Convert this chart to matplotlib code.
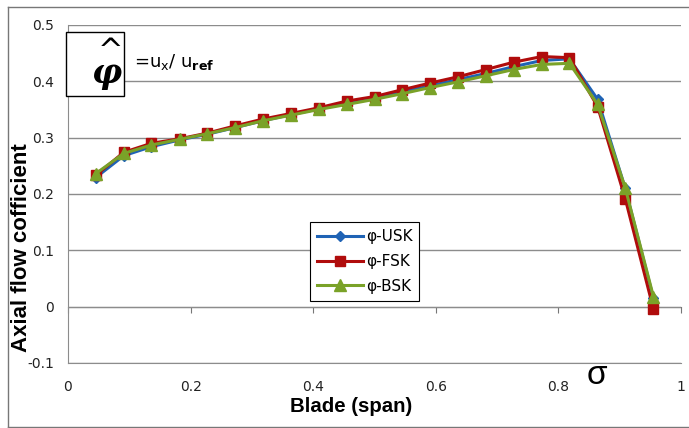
import matplotlib
matplotlib.use("Agg")
import matplotlib.pyplot as plt
from matplotlib.lines import Line2D
from matplotlib.patches import Rectangle
from matplotlib.ticker import FuncFormatter

# blade span positions
span = [0.045, 0.091, 0.136, 0.182, 0.227, 0.273, 0.318, 0.364, 0.409, 0.455, 0.5,
        0.545, 0.591, 0.636, 0.682, 0.727, 0.773, 0.818, 0.864, 0.909, 0.955]

usk = [0.229, 0.268, 0.284, 0.296, 0.306, 0.318, 0.330, 0.341, 0.351, 0.361, 0.370,
       0.381, 0.392, 0.403, 0.414, 0.426, 0.437, 0.440, 0.368, 0.210, 0.015]
fsk = [0.233, 0.274, 0.290, 0.298, 0.308, 0.321, 0.333, 0.343, 0.353, 0.365, 0.373,
       0.385, 0.397, 0.408, 0.421, 0.434, 0.444, 0.442, 0.355, 0.192, -0.004]
bsk = [0.236, 0.272, 0.287, 0.297, 0.307, 0.318, 0.330, 0.340, 0.350, 0.359, 0.368,
       0.378, 0.389, 0.399, 0.410, 0.421, 0.430, 0.432, 0.359, 0.211, 0.018]

labels = ['φ-USK', 'φ-FSK', 'φ-BSK']
xticks = [0, 0.2, 0.4, 0.6, 0.8, 1]
yticks = [-0.1, 0, 0.1, 0.2, 0.3, 0.4, 0.5]

W, H = 689, 428
fig = plt.figure(figsize=(W / 100, H / 100), dpi=100)
ax = fig.add_axes([68 / W, 1 - 363 / H, 613 / W, 338 / H])


def px(x, y):
    return x / W, 1 - y / H


ax.plot(span, usk, color='#1f63b5', lw=2.2, marker='D', ms=5, label=labels[0], zorder=3)
ax.plot(span, fsk, color='#b00c0c', lw=2.2, marker='s', ms=7, label=labels[1], zorder=4)
ax.plot(span, bsk, color='#7aa228', lw=2.2, marker='^', ms=8, label=labels[2], zorder=5)

ax.set_xlim(0, 1)
ax.set_ylim(-0.1, 0.5)
ax.set_xticks(xticks)
ax.set_yticks(yticks)
fmt = FuncFormatter(lambda v, p: '%g' % round(v, 2))
ax.xaxis.set_major_formatter(fmt)
ax.yaxis.set_major_formatter(fmt)
ax.tick_params(length=0, labelsize=10, labelcolor='#222222', pad=12)
ax.tick_params(axis='y', pad=10)
ax.grid(True, axis='y', color='#8c8c8c', lw=1)
for s in ['top', 'right']:
    ax.spines[s].set_visible(False)
ax.spines['left'].set_color('#8c8c8c')
ax.spines['bottom'].set_color('#8c8c8c')

# horizontal axis line through zero, with tick marks
sec = ax.secondary_xaxis(1 / 6)
sec.set_xticks(xticks)
sec.tick_params(direction='out', length=4, color='#777777', labelbottom=False, labeltop=False)
sec.spines['bottom'].set_color('#777777')
sec.spines['top'].set_color('#777777')

ax.set_xlabel('Blade (span)', fontsize=14.7, family='Liberation Sans', fontweight='bold',
              bbox=dict(facecolor='white', edgecolor='none', pad=1))
ax.xaxis.set_label_coords(0.462, -0.100)
ax.set_ylabel('Axial flow cofficient', fontsize=16, family='Liberation Sans',
              fontweight='bold', bbox=dict(facecolor='white', edgecolor='none', pad=1))
ax.yaxis.set_label_coords(-0.058, 0.34)

leg = ax.legend(loc='upper left', bbox_to_anchor=(0.395, 0.417), fontsize=11,
                fancybox=False, edgecolor='black', framealpha=1, handlelength=3.0,
                borderpad=0.45, labelspacing=0.65, handletextpad=0.2, borderaxespad=0)
leg.get_frame().set_linewidth(0.8)

# outer chart border
for seg in [((8, 7), (W, 7)), ((8, 7), (8, 427)), ((8, 427), (W, 427))]:
    (x0, y0), (x1, y1) = px(*seg[0]), px(*seg[1])
    fig.add_artist(Line2D([x0, x1], [y0, y1], color='#777777', lw=1, zorder=0))

# phi-hat box
bx, by = px(66, 96)
fig.add_artist(Rectangle((bx, by), 58 / W, 64 / H, facecolor='white',
                         edgecolor='black', lw=1, zorder=6))
fig.text(*px(111, 52), '^', fontsize=22, ha='center', va='center', zorder=7)
fig.text(*px(106, 74), 'φ', fontsize=24, family='DejaVu Serif', style='italic',
         fontweight='bold', ha='center', va='center', zorder=7)
fig.text(*px(134, 62), r'=u$_\mathregular{x}$/ u$_\mathbf{ref}$', fontsize=13,
         ha='left', va='center')
fig.text(*px(597, 376), 'σ', fontsize=24, family='Liberation Sans', ha='center', va='center')

plt.savefig('out.png', dpi=100)
